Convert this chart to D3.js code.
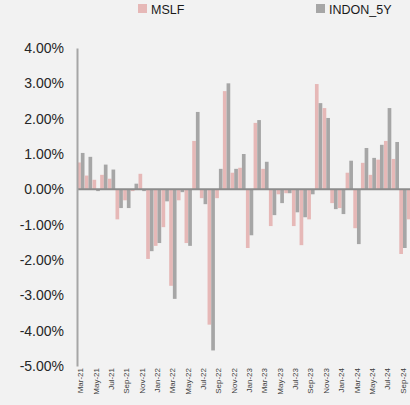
<!DOCTYPE html>
<html>
  <head>
    <meta charset="utf-8">
    <style>
      body { margin: 0; background: #f2f2f2; }
      svg { display: block; font-family: "Liberation Sans", Arial, sans-serif; }
    </style>
  </head>
  <body>
    <script src="https://cdn.jsdelivr.net/npm/d3@7"></script>
    <script>
      var months = ["Mar-21","Apr-21","May-21","Jun-21","Jul-21","Aug-21","Sep-21","Oct-21","Nov-21","Dec-21",
                    "Jan-22","Feb-22","Mar-22","Apr-22","May-22","Jun-22","Jul-22","Aug-22","Sep-22","Oct-22","Nov-22","Dec-22",
                    "Jan-23","Feb-23","Mar-23","Apr-23","May-23","Jun-23","Jul-23","Aug-23","Sep-23","Oct-23","Nov-23","Dec-23",
                    "Jan-24","Feb-24","Mar-24","Apr-24","May-24","Jun-24","Jul-24","Aug-24","Sep-24","Oct-24"];
      var seriesNames = ["MSLF", "INDON_5Y"];
      var mslf = [0.76,0.39,0.27,0.41,0.30,-0.85,-0.31,-0.05,0.44,-1.97,
                  -1.60,-1.07,-2.73,-0.31,-1.52,1.37,-0.25,-3.83,-0.25,2.78,0.47,0.61,
                  -1.66,1.88,0.58,-1.04,-0.14,-0.11,-1.04,-1.58,-0.85,2.98,2.30,-0.39,
                  -0.53,0.47,-1.10,0.75,0.41,0.84,1.37,0.86,-1.83,-0.85];
      var indon5y = [1.03,0.92,-0.05,0.70,0.56,-0.53,-0.53,0.16,-0.05,-1.75,
                     -1.52,-0.34,-3.10,-0.08,-1.60,2.19,-0.42,-4.56,0.58,3.00,0.58,1.00,
                     -1.30,1.96,0.78,-0.73,-0.39,-0.11,-0.65,-0.79,-0.14,2.44,2.02,-0.56,
                     -0.70,0.81,-1.55,1.17,0.89,1.26,2.30,1.34,-1.66,-0.90];
      var yTicks = [4, 3, 2, 1, 0, -1, -2, -3, -4, -5];
      var colors = ["#e6b8b7", "#a6a6a6"];

      var width = 410, height = 405;
      var margin = { top: 48, left: 77, bottom: 39 };

      var svg = d3.select("body").append("svg")
          .attr("width", width)
          .attr("height", height);

      var data = months.map(function (m, i) {
        return { month: m, values: [mslf[i], indon5y[i]] };
      });

      // the original was cropped on the right, last month only half shows
      var x = d3.scaleBand()
          .domain(months)
          .range([margin.left, margin.left + months.length * 7.67])
          .paddingInner(0.04)
          .paddingOuter(0.02);

      var xs = d3.scaleBand()
          .domain([0, 1])
          .range([0, x.bandwidth()]);

      var y = d3.scaleLinear()
          .domain([-5, 4])
          .range([height - margin.bottom, margin.top]);

      // bars
      var groups = svg.append("g").selectAll("g")
          .data(data)
          .enter().append("g")
          .attr("transform", function (d) { return "translate(" + x(d.month) + ",0)"; });

      groups.selectAll("rect")
          .data(function (d) { return d.values; })
          .enter().append("rect")
          .attr("x", function (d, i) { return xs(i); })
          .attr("width", xs.bandwidth())
          .attr("y", function (d) { return y(Math.max(0, d)); })
          .attr("height", function (d) { return Math.abs(y(d) - y(0)); })
          .attr("fill", function (d, i) { return colors[i]; });

      // zero line
      svg.append("line")
          .attr("x1", margin.left)
          .attr("x2", width)
          .attr("y1", y(0))
          .attr("y2", y(0))
          .attr("stroke", "#8c8c8c")
          .attr("stroke-width", 2);

      // y axis, plain hyphen for negatives like the original
      var pct = d3.format(".2%");
      var yAxis = svg.append("g")
          .attr("transform", "translate(" + margin.left + ",0)")
          .call(d3.axisLeft(y)
            .tickValues(yTicks)
            .tickSize(0)
            .tickPadding(13)
            .tickFormat(function (d) { return pct(d / 100).replace("\u2212", "-"); }));
      yAxis.select(".domain").attr("stroke", "#a6a6a6").attr("stroke-width", 2);
      yAxis.selectAll("text")
          .attr("font-size", 14)
          .attr("fill", "#262626")
          .attr("font-family", "Liberation Sans, Arial, sans-serif");

      // x axis labels (every other month)
      var xAxis = svg.append("g")
          .attr("transform", "translate(0," + (height - margin.bottom) + ")")
          .call(d3.axisBottom(x)
            .tickValues(months.filter(function (m, i) { return i % 2 === 0; }))
            .tickSize(0));
      xAxis.select(".domain").remove();
      xAxis.selectAll("text")
          .attr("transform", "rotate(-90)")
          .attr("text-anchor", "end")
          .attr("x", -2)
          .attr("y", 0)
          .attr("dy", "0.32em")
          .attr("font-size", 8)
          .attr("fill", "#404040")
          .attr("font-family", "Liberation Sans, Arial, sans-serif");

      // legend
      var legendX = [138, 316];
      var legend = svg.append("g").selectAll("g")
          .data(seriesNames)
          .enter().append("g")
          .attr("transform", function (d, i) { return "translate(" + legendX[i] + ",4)"; });
      legend.append("rect")
          .attr("width", 9)
          .attr("height", 9)
          .attr("fill", function (d, i) { return colors[i]; });
      legend.append("text")
          .attr("x", 13)
          .attr("y", 9.5)
          .attr("font-size", 12.5)
          .attr("fill", "#1a1a1a")
          .text(function (d) { return d; });
    </script>
  </body>
</html>
